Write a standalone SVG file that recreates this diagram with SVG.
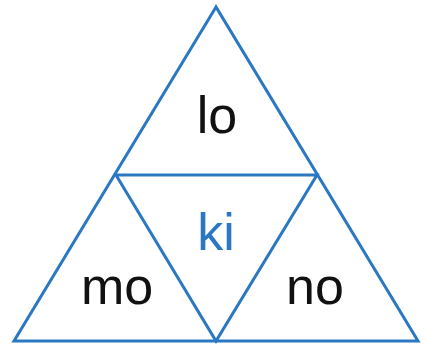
<svg xmlns="http://www.w3.org/2000/svg" width="427" height="345" viewBox="0 0 427 345">
<style>
.edge{fill:none;stroke:#2a78c2;stroke-width:3;stroke-linejoin:miter}
.lbl{font-family:"Liberation Sans",Arial,sans-serif;font-size:52px;text-anchor:middle;fill:#111}
.blue{fill:#2a78c2}
</style>
<rect width="427" height="345" fill="#fff"/>
<g id="connectors">
<polygon class="edge" points="216,7 14,341 418,341"/>
<polygon class="edge" points="116,175 317,175 216,341"/>
</g>
<g id="node-lo"><text class="lbl" x="217" y="133">lo</text></g>
<g id="node-ki"><text class="lbl blue" x="216" y="250">ki</text></g>
<g id="node-mo"><text class="lbl" x="117" y="304">mo</text></g>
<g id="node-no"><text class="lbl" x="315" y="304">no</text></g>
</svg>
